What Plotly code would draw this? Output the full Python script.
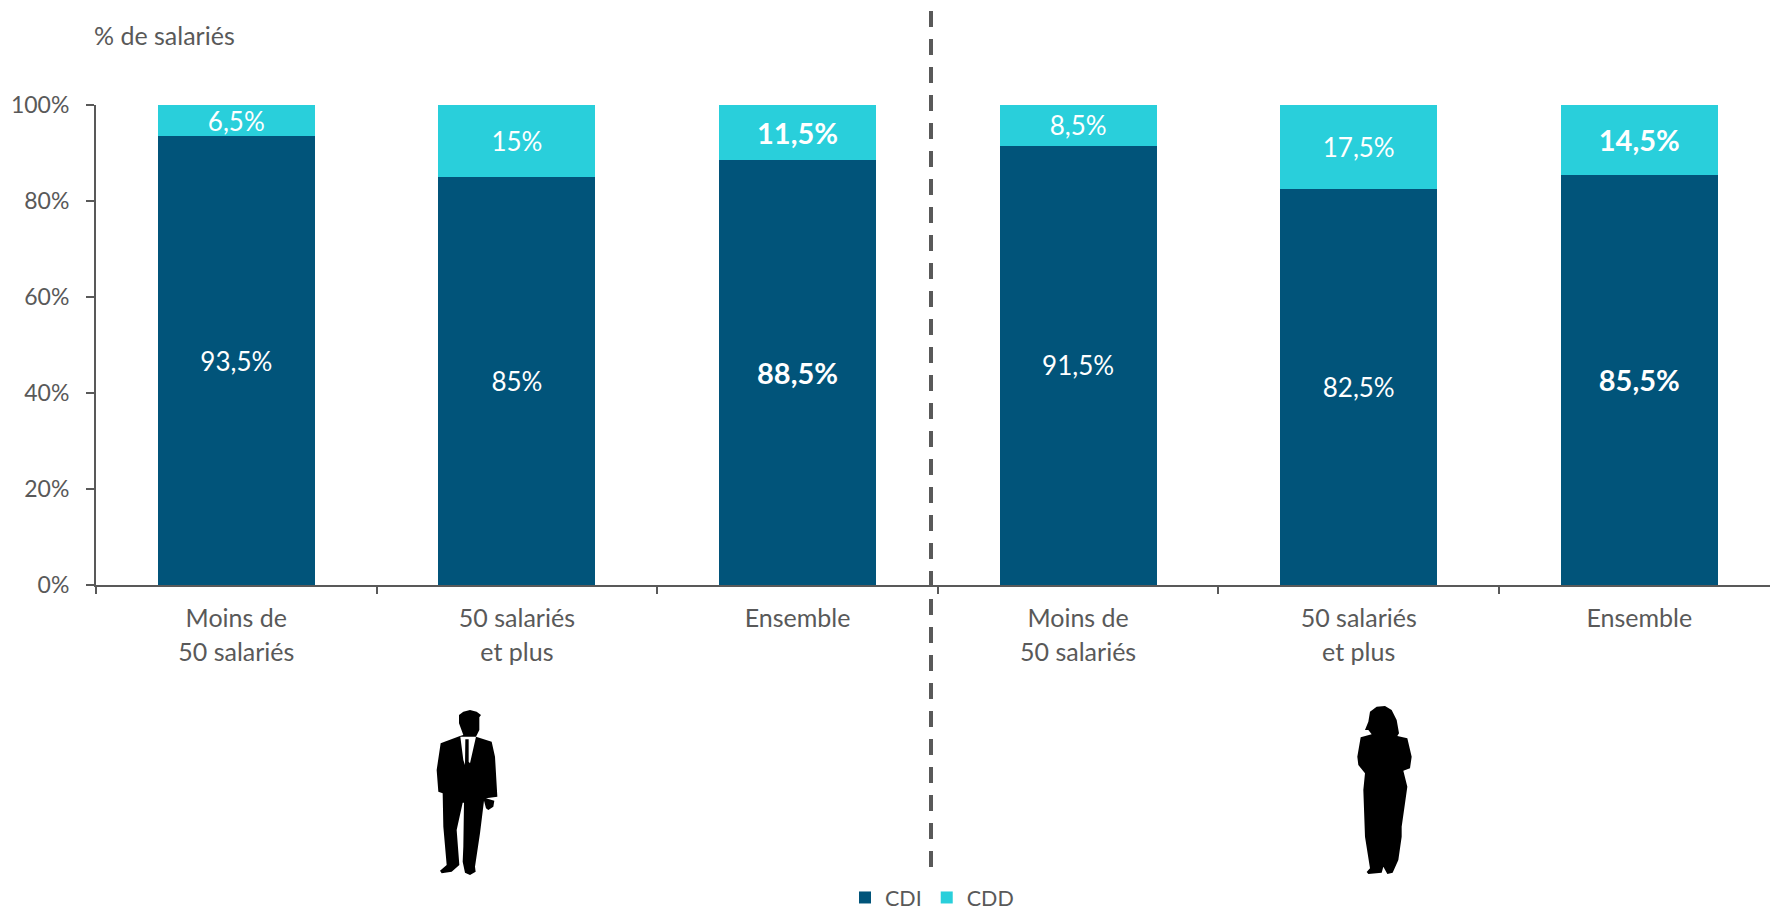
import plotly.graph_objects as go

W, H = 1770, 911
L, R, T, B = 96, 0, 105, 326
GREY = "#595959"

categories = ["Moins de<br>50 salariés", "50 salariés<br>et plus", "Ensemble",
              "Moins de<br>50 salariés", "50 salariés<br>et plus", "Ensemble"]
cdi = [93.5, 85, 88.5, 91.5, 82.5, 85.5]
cdd = [6.5, 15, 11.5, 8.5, 17.5, 14.5]
bold = [False, False, True, False, False, True]
positions = [0, 1, 2, 3, 4, 5]
boundaries = [-0.5, 0.5, 1.5, 2.5, 3.5, 4.5]
y_ticks = [0, 20, 40, 60, 80, 100]
y_labels = ["0%", "20%", "40%", "60%", "80%", "100%"]

CAT_W = 280.6
x_max = (W - L) / CAT_W - 0.5


def lab(v, b):
    s = f"{v:g}".replace(".", ",") + "%"
    return f"<b>{s}</b>" if b else s


fig = go.Figure()
for name, vals, col in [("CDI", cdi, "#01547A"), ("CDD", cdd, "#29CFDB")]:
    fig.add_bar(
        x=positions, y=vals, name=name, width=157 / CAT_W,
        marker=dict(color=col, line=dict(width=0)),
        text=[lab(v, b) for v, b in zip(vals, bold)],
        textposition="inside", insidetextanchor="middle", textangle=0,
        constraintext="none",
        textfont=dict(color="white", size=[29 if b else 26 for b in bold], family="Lato"),
    )


def px(x, y):
    return ((x - L) / (W - L - R), 1 - (y - T) / (H - T - B))


def path(points, ox=0, oy=0, s=1.0):
    out = []
    for i, (zx, zy) in enumerate(points):
        a, b = px(ox + zx * s, oy + zy * s)
        out.append(("M" if i == 0 else "L") + f"{a:.5f},{b:.5f}")
    return " ".join(out) + " Z"


man = [(237, 105), (250, 95), (270, 90), (290, 95), (303, 105), (298, 112), (298, 150), (288, 170),
       (335, 185), (345, 230), (352, 350), (318, 355), (343, 362), (340, 380), (325, 390), (318, 385),
       (312, 362), (300, 460), (285, 560), (287, 575), (270, 585), (255, 578), (248, 545), (250, 500),
       (252, 368), (248, 368), (230, 450), (238, 555), (215, 575), (185, 580), (180, 572), (200, 555),
       (190, 440), (188, 340), (175, 335), (170, 270), (182, 190), (240, 168), (250, 165), (237, 130)]
shirt = [(241, 170), (288, 170), (270, 250), (266, 245), (266, 178), (256, 178), (255, 255), (250, 240)]
woman = [(205, 150), (195, 150), (205, 125), (210, 95), (230, 80), (255, 78), (275, 90), (290, 120),
         (297, 160), (292, 168), (322, 175), (335, 230), (330, 265), (310, 272), (322, 320), (315, 370),
         (305, 440), (305, 470), (295, 540), (278, 578), (262, 582), (250, 560), (245, 578), (205, 582),
         (200, 576), (210, 565), (195, 470), (190, 330), (195, 280), (175, 255), (172, 230), (182, 172),
         (215, 163)]

shapes = [
    dict(type="path", xref="paper", yref="paper", path=path(man, 380, 680, 1 / 3),
         fillcolor="black", line=dict(width=0)),
    dict(type="path", xref="paper", yref="paper", path=path(shirt, 380, 680, 1 / 3),
         fillcolor="white", line=dict(width=0)),
    dict(type="path", xref="paper", yref="paper", path=path(woman, 1300, 680, 1 / 3),
         fillcolor="black", line=dict(width=0)),
]

lx, ly = px(845, 877)
ax, ay = px(92, 35)
dx0, dy0 = px(931, 11)
dx1, dy1 = px(931, 867)

fig.update_layout(
    width=W, height=H, autosize=False,
    barmode="stack", showlegend=True,
    paper_bgcolor="white", plot_bgcolor="white",
    margin=dict(l=L, r=R, t=T, b=B, pad=0, autoexpand=False),
    font=dict(family="Lato", size=23, color=GREY),
    xaxis=dict(
        range=[-0.5, x_max], tickmode="array", tickvals=positions,
        ticktext=[f'<span style="font-size:25px">{c}</span>' for c in categories],
        tickfont=dict(size=26, color=GREY, family="Lato"), tickangle=0,
        ticks="", showgrid=False, zeroline=False, showline=True,
        linecolor=GREY, linewidth=2, ticklabelstandoff=9,
        minor=dict(tickmode="array", tickvals=boundaries, ticks="outside",
                   ticklen=7, tickwidth=1.5, tickcolor=GREY, showgrid=False),
    ),
    yaxis=dict(
        range=[0, 100], tickmode="array", tickvals=y_ticks, ticktext=y_labels,
        tickfont=dict(size=23, color=GREY, family="Lato"),
        ticks="outside", ticklen=8, tickwidth=1.5, tickcolor=GREY,
        showgrid=False, zeroline=False, showline=True, linecolor=GREY, linewidth=2,
        ticklabelstandoff=12,
    ),
    legend=dict(orientation="h", xref="paper", yref="paper", x=lx, xanchor="left",
                y=ly, yanchor="top", font=dict(size=21.5, color=GREY, family="Lato"),
                traceorder="normal", bgcolor="rgba(0,0,0,0)", itemclick=False, itemdoubleclick=False),
    annotations=[dict(text="% de salariés", xref="paper", yref="paper", x=ax, y=ay,
                      xanchor="left", yanchor="middle", showarrow=False,
                      font=dict(size=25, color=GREY, family="Lato"))],
    shapes=shapes + [dict(type="line", xref="paper", yref="paper", x0=dx0, x1=dx1,
                          y0=dy0, y1=dy1,
                          line=dict(color=GREY, width=4, dash="16px,12px"))],
)
fig.write_html("out.html", post_script="document.body.style.margin='0';",
               config={"displayModeBar": False})
